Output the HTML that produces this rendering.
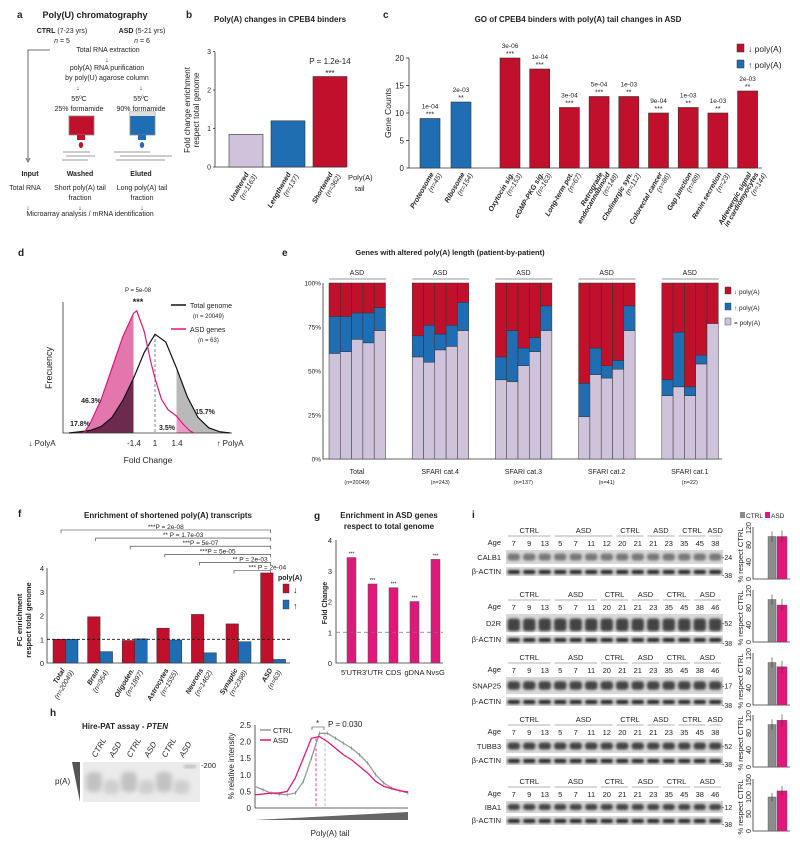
<!DOCTYPE html>
<html><head><meta charset="utf-8"><style>
html,body{margin:0;padding:0;background:#fff}
svg{display:block;font-family:"Liberation Sans",sans-serif}
text{fill:#222}
.b{font-weight:bold}
</style></head><body>
<svg id="fig" width="800" height="844" viewBox="0 0 800 844" xmlns="http://www.w3.org/2000/svg">
<defs><filter id="blur" x="-20%" y="-50%" width="140%" height="200%"><feGaussianBlur stdDeviation="1.2"/></filter>
<filter id="blur2" x="-30%" y="-50%" width="160%" height="200%"><feGaussianBlur stdDeviation="2.5"/></filter></defs>
<!-- Panel a -->
<g font-size="7">
<text x="17" y="18" class="b" font-size="10">a</text>
<text x="95" y="18" class="b" font-size="9" text-anchor="middle">Poly(U) chromatography</text>
<text x="62" y="33" text-anchor="middle"><tspan class="b">CTRL</tspan> (7-23 yrs)</text>
<text x="62" y="43" text-anchor="middle"><tspan font-style="italic">n</tspan> = 5</text>
<text x="142" y="33" text-anchor="middle"><tspan class="b">ASD</tspan> (5-21 yrs)</text>
<text x="142" y="43" text-anchor="middle"><tspan font-style="italic">n</tspan> = 6</text>
<path d="M50 50 H28 V160" stroke="#444" fill="none" stroke-width="0.8"/>
<path d="M26 158 L28 162 L30 158" stroke="#444" fill="none" stroke-width="0.8"/>
<text x="108" y="52" text-anchor="middle">Total RNA extraction</text>
<text x="107" y="62" text-anchor="middle">↓</text>
<text x="107" y="70" text-anchor="middle">poly(A) RNA purification</text>
<text x="107" y="80" text-anchor="middle">by poly(U) agarose column</text>
<text x="78" y="90" text-anchor="middle">↓</text><text x="141" y="90" text-anchor="middle">↓</text>
<text x="79" y="101" text-anchor="middle">55ºC</text><text x="141" y="101" text-anchor="middle">55ºC</text>
<text x="79" y="111" text-anchor="middle">25% formamide</text>
<text x="141" y="111" text-anchor="middle">90% formamide</text>
<g><rect x="69" y="116" width="25" height="19" fill="#c0102c" stroke="#888" stroke-width="0.8"/><rect x="77" y="135" width="8" height="5" fill="#c0102c"/><ellipse cx="81" cy="145" rx="2.2" ry="3" fill="#c0102c"/></g>
<g><rect x="130" y="112" width="25" height="23" fill="#1f6eb4" stroke="#888" stroke-width="0.8"/><rect x="130" y="112" width="25" height="4" fill="#ddd"/><rect x="138" y="135" width="8" height="5" fill="#1f6eb4"/><ellipse cx="142" cy="145" rx="2.2" ry="3" fill="#1f6eb4"/></g>
<g stroke="#777" stroke-width="0.7" fill="none">
<path d="M63 152 H90 M66 156 H95 M62 160 H88 M114 152 H150 M120 156 H172 M116 160 H165"/></g>
<text x="30" y="176" class="b" text-anchor="middle">Input</text>
<text x="80" y="176" class="b" text-anchor="middle">Washed</text>
<text x="141" y="176" class="b" text-anchor="middle">Eluted</text>
<text x="25" y="190" text-anchor="middle">Total RNA</text>
<text x="80" y="190" text-anchor="middle">Short poly(A) tail</text>
<text x="80" y="200" text-anchor="middle">fraction</text>
<text x="142" y="190" text-anchor="middle">Long poly(A) tail</text>
<text x="142" y="200" text-anchor="middle">fraction</text>
<text x="28" y="210" text-anchor="middle">↓</text><text x="80" y="210" text-anchor="middle">↓</text><text x="142" y="210" text-anchor="middle">↓</text>
<text x="90" y="216" text-anchor="middle">Microarray analysis / mRNA identification</text>
</g>
<g font-size="8">
<text x="186" y="18" class="b" font-size="10">b</text>
<text x="280" y="22" class="b" text-anchor="middle">Poly(A) changes in CPEB4 binders</text>
<text x="383" y="18" class="b" font-size="10">c</text>
<text x="578" y="22" class="b" text-anchor="middle">GO of CPEB4 binders with poly(A) tail changes in ASD</text>
<text x="18" y="256" class="b" font-size="10">d</text>
<text x="282" y="256" class="b" font-size="10">e</text>
<text x="450" y="255" class="b" text-anchor="middle" font-size="7.5">Genes with altered poly(A) length (patient-by-patient)</text>
<text x="18" y="517" class="b" font-size="10">f</text>
<text x="168" y="518" class="b" text-anchor="middle">Enrichment of shortened poly(A) transcripts</text>
<text x="314" y="519" class="b" font-size="10">g</text>
<text x="389" y="518" class="b" text-anchor="middle">Enrichment in ASD genes</text>
<text x="389" y="529" class="b" text-anchor="middle">respect to total genome</text>
<text x="472" y="518" class="b" font-size="10">i</text>
<text x="50" y="716" class="b" font-size="10">h</text>
<text x="125" y="729" class="b" text-anchor="middle">Hire-PAT assay - <tspan font-style="italic">PTEN</tspan></text>
</g>
<g id="charts"></g>
</svg>
<script>
const NS='http://www.w3.org/2000/svg';
const root=document.getElementById('charts');
function mk(tag,attrs,parent){const e=document.createElementNS(NS,tag);for(const k in attrs)e.setAttribute(k,attrs[k]);(parent||root).appendChild(e);return e;}
function tx(s,x,y,attrs,parent){const a=Object.assign({x:x,y:y,'font-size':7},attrs||{});const e=mk('text',a,parent);e.textContent=s;return e;}
const RED='#c0102c',BLUE='#1f6eb4',LAV='#cfc3dc',PINK='#e0187a',GREY='#999';

// ---------- Panel b data ----------
const bCats=['Unaltered','Lengthened','Shortened'];
const bN=['(n=1163)','(n=137)','(n=362)'];
const bVals=[0.85,1.2,2.35];
const bColors=[LAV,BLUE,RED];
const bTicks=[0,1,2,3];
// ---------- Panel c data ----------
const cCats=['Proteosome','Ribosome','Oxytocin sig.','cGMP-PKG sig.','Long-term pot.','Retrograde|endocannabinoid','Cholinergic syn.','Colorectal cancer','Gap junction','Renin secretion','Adrenergic signal|in cardiomyocytes'];
const cN=['(n=45)','(n=154)','(n=153)','(n=163)','(n=67)','(n=148)','(n=112)','(n=86)','(n=88)','(n=23)','(n=144)'];
const cVals=[9,12,20,18,11,13,13,10,11,10,14];
const cP=['1e-04','2e-03','3e-06','1e-04','3e-04','5e-04','1e-03','9e-04','1e-03','1e-03','2e-03'];
const cStars=['***','**','***','***','***','***','**','***','**','**','**'];
const cDir=['up','up','down','down','down','down','down','down','down','down','down'];
const cTicks=[0,5,10,15,20];
// ---------- Panel d data ----------
const dT=[-4,-3.5,-3,-2.5,-2,-1.5,-1,-0.5,0,0.5,1,1.5,2,2.5,3,3.5];
const dTotal=[0,0.01,0.02,0.05,0.12,0.25,0.42,0.62,0.76,0.7,0.5,0.28,0.12,0.04,0.01,0];
const dAsdT=[-3.3,-3,-2.5,-2,-1.5,-1,-0.85,-0.5,-0.2,0,0.3,0.6,1,1.3,1.6,1.8];
const dAsd=[0,0.08,0.26,0.5,0.74,0.92,0.94,0.78,0.55,0.42,0.26,0.18,0.13,0.07,0.02,0];
// ---------- Panel e data ----------
const eGroups=['Total','SFARI  cat.4','SFARI  cat.3','SFARI  cat.2','SFARI  cat.1'];
const eN=['(n=20049)','(n=243)','(n=137)','(n=41)','(n=22)'];
const eEqual=[[60,61,68,66,73],[58,55,62,64,73],[45,44,53,61,73],[24,48,46,51,73],[36,41,36,54,77]];
const eUp=[[21,20,15,17,13],[12,21,9,12,16],[13,29,10,8,14],[19,15,7,5,14],[9,31,5,5,0]];
const eTicks=['0%','25%','50%','75%','100%'];
// ---------- Panel f data ----------
const fCats=['Total','Brain','Oligoden.','Astrocytes','Neurons','Synaptic','ASD'];
const fN=['(n=20049)','(n=954)','(n=1897)','(n=1555)','(n=1462)','(n=2398)','(n=63)'];
const fDown=[1,1.95,0.95,1.47,2.05,1.65,3.8];
const fUp=[1,0.48,1.02,0.97,0.43,0.9,0.15];
const fSigFrom=[0,1,2,3,4,5];
const fSigText=['***P = 2e-08','** P = 1.7e-03','***P = 5e-07','***P = 5e-05','** P = 2e-03','*** P = 2e-04'];
const fTicks=[0,1,2,3,4];
// ---------- Panel g data ----------
const gCats=["5'UTR","3'UTR",'CDS','gDNA','NvsG'];
const gVals=[3.43,2.57,2.45,2.0,3.37];
const gTicks=[0,1,2,3,4];
// ---------- Panel h data ----------
const hCtrl=[0.65,0.55,0.45,0.42,0.4,0.45,0.8,1.5,2.25,2.25,2.1,1.95,1.8,1.6,1.35,1.0,0.75,0.6,0.52,0.45];
const hAsd=[0.4,0.42,0.45,0.45,0.5,0.9,1.5,2.1,2.15,2.0,1.8,1.6,1.45,1.25,1.05,0.8,0.65,0.58,0.52,0.48];
const hTicks=[0,0.5,1.0,1.5,2.0,2.5];
// ---------- Panel i data ----------
const iProteins=['CALB1','D2R','SNAP25','TUBB3','IBA1'];
const iMW=['24','52','17','52','12'];
const iCtrl=[100,100,100,100,100];
const iAsd=[100,87,90,110,118];
const iMax=[120,120,120,120,150];
const iAgesA=['7','9','13','5','7','11','12','20','21','21','23','35','45','38'];
const iAgesB=['7','9','13','5','7','11','20','21','21','23','35','45','38','46'];

// ===== Panel b =====
(function(){
 const g=mk('g',{});
 
 
 const y=v=>167-v*38.5;
 mk('path',{d:'M215 52 V167 H346',stroke:'#333',fill:'none','stroke-width':0.8},g);
 bTicks.forEach(t=>{const e=tx(String(t),211,y(t)+2.5,{'text-anchor':'end'},g);
  
  
  mk('line',{x1:213,x2:215,y1:y(t),y2:y(t),stroke:'#333','stroke-width':0.8},g);});
 const yt=tx('Fold change enrichment',0,0,{'font-size':8,transform:'translate(190,110) rotate(-90)','text-anchor':'middle'},g);
 
 
 tx('respect total genome',0,0,{'font-size':8,transform:'translate(199,110) rotate(-90)','text-anchor':'middle'},g);
 bVals.forEach((v,i)=>{const x=229+i*42;
  const r=mk('rect',{x:x,y:y(v),width:34,height:167-y(v),fill:bColors[i],stroke:'#333','stroke-width':0.6},g);
  
  
  const l=tx(bCats[i],0,0,{'font-weight':'bold','font-style':'italic','text-anchor':'end',transform:`translate(${x+20},174) rotate(-60)`},g);
  
  
  tx(bN[i],0,0,{'font-style':'italic','text-anchor':'end',transform:`translate(${x+28},176) rotate(-60)`},g);
 });
 const p=tx('P = 1.2e-14',330,64,{'font-size':8,'text-anchor':'middle'},g);
 
 
 tx('***',330,76,{'font-size':8,'text-anchor':'middle'},g);
 tx('Poly(A)',348,180,{'font-size':7.5},g);tx('tail',355,191,{'font-size':7.5},g);
})();

// ===== Panel c =====
(function(){
 const g=mk('g',{});
 
 
 const y=v=>168-v*5.5;
 const xb=i=>i<2?420+i*31:500+(i-2)*29.7;
 mk('path',{d:'M409 58 V168 H762',stroke:'#333',fill:'none','stroke-width':0.8},g);
 cTicks.forEach(t=>{const e=tx(String(t),404,y(t)+3,{'text-anchor':'end','font-size':8},g);
  
  
  mk('line',{x1:406,x2:409,y1:y(t),y2:y(t),stroke:'#333','stroke-width':0.8},g);});
 const yt=tx('Gene Counts',0,0,{'font-size':8.5,transform:'translate(391,113) rotate(-90)','text-anchor':'middle'},g);
 
 
 cVals.forEach((v,i)=>{const x=xb(i);
  const r=mk('rect',{x:x,y:y(v),width:20,height:168-y(v),fill:cDir[i]==='up'?BLUE:RED,stroke:'#333','stroke-width':0.6},g);
  
  
  const pv=tx(cP[i],x+10,y(v)-10,{'text-anchor':'middle','font-size':6.5},g);
  
  
  tx(cStars[i],x+10,y(v)-2,{'text-anchor':'middle','font-size':7},g);
  const parts=cCats[i].split('|');
  parts.forEach((s,k)=>{const l=tx(s,0,0,{'font-weight':'bold','font-style':'italic','text-anchor':'end',transform:`translate(${x+14+k*7},174) rotate(-60)`},g);
   
   });
  tx(cN[i],0,0,{'font-style':'italic','fill':'#666','text-anchor':'end',transform:`translate(${x+22+(parts.length-1)*7},175) rotate(-60)`},g);
 });
 const l1=mk('rect',{x:737,y:44,width:7,height:8,fill:RED,stroke:'#333','stroke-width':0.5},g);
 
 
 tx('↓ poly(A)',748,52,{'font-size':8.5},g);
 const l2=mk('rect',{x:737,y:60,width:7,height:8,fill:BLUE,stroke:'#333','stroke-width':0.5},g);
 
 
 tx('↑ poly(A)',748,68,{'font-size':8.5},g);
})();

// ===== Panel d =====
(function(){
 const g=mk('g',{});
 
 
 const x=t=>155+t*21.5, y=f=>433-f*130;
 function pts(T,F,lo,hi){const a=[];for(let i=0;i<T.length-1;i++){const t0=T[i],t1=T[i+1];if(t1<lo||t0>hi)continue;
   const a0=Math.max(t0,lo),a1=Math.min(t1,hi);
   const f0=F[i]+(F[i+1]-F[i])*(a0-t0)/(t1-t0),f1=F[i]+(F[i+1]-F[i])*(a1-t0)/(t1-t0);
   if(!a.length)a.push([x(a0),y(f0)]);a.push([x(a1),y(f1)]);}return a;}
 function area(T,F,lo,hi,fill,name){const p=pts(T,F,lo,hi);const d='M'+p[0][0]+' 433 L'+p.map(q=>q.join(' ')).join(' L')+' L'+p[p.length-1][0]+' 433Z';
  const e=mk('path',{d:d,fill:fill,stroke:'none'},g);
  
  }
 area(dAsdT,dAsd,-5,-1,'#e276ad','asd-shortened-area');
 area(dT,dTotal,-5,-1,'#6e2a4e','total-shortened-area');
 area(dT,dTotal,1,5,'#b9b9b9','total-lengthened-area');
 area(dAsdT,dAsd,1,5,'#e89cc3','asd-lengthened-area');
 mk('path',{d:'M63 302 V433 H232',stroke:'#333',fill:'none','stroke-width':0.8},g);
 mk('line',{x1:155,x2:155,y1:334,y2:433,stroke:'#666','stroke-dasharray':'3 2','stroke-width':0.8},g);
 const tl=mk('path',{d:'M'+dT.map((t,i)=>x(t)+' '+y(dTotal[i])).join(' L'),fill:'none',stroke:'#111','stroke-width':1.2},g);
 
 
 const al=mk('path',{d:'M'+dAsdT.map((t,i)=>x(t)+' '+y(dAsd[i])).join(' L'),fill:'none',stroke:PINK,'stroke-width':1.2},g);
 
 
 const yt=tx('Frecuency',0,0,{'font-size':9,transform:'translate(52,368) rotate(-90)','text-anchor':'middle'},g);
 
 
 tx('P = 5e-08',138,292,{'font-size':6,'text-anchor':'middle'},g);
 tx('***',138,305,{'font-size':9,'text-anchor':'middle','font-weight':'bold'},g);
 mk('line',{x1:171,x2:186,y1:305,y2:305,stroke:'#111','stroke-width':1.5},g);
 const lg=tx('Total genome',190,308,{'font-size':7},g);
 
 
 tx('(n = 20049)',193,318,{'font-size':6},g);
 mk('line',{x1:171,x2:186,y1:329,y2:329,stroke:PINK,'stroke-width':1.5},g);
 const lg2=tx('ASD genes',190,332,{'font-size':7},g);
 
 
 tx('(n = 63)',198,342,{'font-size':6},g);
 tx('46.3%',91,403,{'font-size':7,'font-weight':'bold',fill:PINK,'text-anchor':'middle'},g);
 tx('17.8%',80,426,{'font-size':7,'font-weight':'bold','text-anchor':'middle'},g);
 tx('3.5%',167,430,{'font-size':7,'font-weight':'bold',fill:PINK,'text-anchor':'middle'},g);
 tx('15.7%',205,414,{'font-size':7,'font-weight':'bold','text-anchor':'middle'},g);
 [['↓ PolyA',42],['-1.4',134],['1',155],['1.4',177],['↑ PolyA',230]].forEach(a=>{const e=tx(a[0],a[1],446,{'font-size':8,'text-anchor':'middle'},g);
  
  });
 const xt=tx('Fold Change',148,463,{'font-size':8.5,'text-anchor':'middle'},g);
 
 
})();

// ===== Panel e =====
(function(){
 const g=mk('g',{});
 
 
 const y=p=>459-p*1.76;
 mk('path',{d:'M323 283 V459 H722',stroke:'#333',fill:'none','stroke-width':0.8},g);
 eTicks.forEach((t,i)=>{const e=tx(t,321,y(i*25)+2.5,{'text-anchor':'end','font-size':6.5},g);
  
  });
 eEqual.forEach((grp,gi)=>{const gx=329+gi*83.2;
  grp.forEach((eq,k)=>{const x=gx+k*11.3,up=eUp[gi][k];
   const r1=mk('rect',{x:x,y:y(eq),width:11.3,height:eq*1.76,fill:LAV,stroke:'#333','stroke-width':0.5},g);
   
   
   const r2=mk('rect',{x:x,y:y(eq+up),width:11.3,height:up*1.76,fill:BLUE,stroke:'#333','stroke-width':0.5},g);
   
   
   const r3=mk('rect',{x:x,y:y(100),width:11.3,height:(100-eq-up)*1.76,fill:RED,stroke:'#333','stroke-width':0.5},g);
   
   
  });
  mk('line',{x1:gx,x2:gx+57,y1:279,y2:279,stroke:'#777','stroke-width':0.8},g);
  const a=tx('ASD',gx+28,275,{'font-size':7,'text-anchor':'middle'},g);
  
  
  const l=tx(eGroups[gi],gx+28,474,{'font-size':7,'text-anchor':'middle'},g);
  
  
  tx(eN[gi],gx+28,484,{'font-size':5.5,'text-anchor':'middle'},g);
 });
 [[RED,'↓ poly(A)',291],[BLUE,'↑ poly(A)',307],[LAV,'= poly(A)',322]].forEach(a=>{
  const r=mk('rect',{x:725,y:a[2]-4,width:6,height:7,fill:a[0],stroke:'#333','stroke-width':0.4},g);
  
  
  tx(a[1],734,a[2]+3,{'font-size':6.5},g);});
})();

// ===== Panel f =====
(function(){
 const g=mk('g',{});
 
 
 const y=v=>663-v*23.7;
 const xg=i=>53+i*34.6;
 mk('path',{d:'M47 568 V663 H290',stroke:'#333',fill:'none','stroke-width':0.8},g);
 fTicks.forEach(t=>{const e=tx(String(t),44,y(t)+3,{'text-anchor':'end','font-size':7.5},g);
  
  });
 const yt=tx('FC enrichment',0,0,{'font-size':7.5,'font-weight':'bold',transform:'translate(22,620) rotate(-90)','text-anchor':'middle'},g);
 
 
 tx('respect total genome',0,0,{'font-size':7.5,'font-weight':'bold',transform:'translate(31,620) rotate(-90)','text-anchor':'middle'},g);
 fDown.forEach((v,i)=>{const x=xg(i);
  const r=mk('rect',{x:x,y:y(v),width:12.5,height:v*23.7,fill:RED,stroke:'#333','stroke-width':0.5},g);
  
  
  const r2=mk('rect',{x:x+12.5,y:y(fUp[i]),width:12.5,height:fUp[i]*23.7,fill:BLUE,stroke:'#333','stroke-width':0.5},g);
  
  
  const l=tx(fCats[i],0,0,{'font-weight':'bold','font-style':'italic','text-anchor':'end','font-size':7,transform:`translate(${x+12},670) rotate(-60)`},g);
  
  
  tx(fN[i],0,0,{'font-style':'italic','fill':'#555','text-anchor':'end','font-size':7,transform:`translate(${x+21},672) rotate(-60)`},g);
 });
 mk('line',{x1:47,x2:290,y1:y(1),y2:y(1),stroke:'#111','stroke-dasharray':'3 2','stroke-width':0.8},g);
 fSigFrom.forEach((fi,k)=>{const ly=530+k*8.1,x1=xg(fi)+8,x2=xg(6)+10;
  const l=mk('path',{d:`M${x1} ${ly+3} V${ly} H${x2} V${ly+3}`,stroke:'#333',fill:'none','stroke-width':0.6},g);
  
  
  const t=tx(fSigText[k],(x1+x2)/2+ (k>3?15:0),ly-1,{'text-anchor':'middle','font-size':6.5},g);
  
  
 });
 tx('poly(A)',278,580,{'font-size':7,'font-weight':'bold'},g);
 const a=mk('rect',{x:283,y:584,width:6,height:9,fill:RED,stroke:'#333','stroke-width':0.4},g);
 
 
 tx('↓',293,593,{'font-size':9},g);
 const b=mk('rect',{x:283,y:600,width:6,height:9,fill:BLUE,stroke:'#333','stroke-width':0.4},g);
 
 
 tx('↑',293,609,{'font-size':9},g);
})();

// ===== Panel g =====
(function(){
 const g=mk('g',{});
 
 
 const y=v=>663-v*30.75;
 mk('path',{d:'M336 540 V663 H443',stroke:'#333',fill:'none','stroke-width':0.8},g);
 gTicks.forEach(t=>{const e=tx(String(t),332,y(t)+3,{'text-anchor':'end','font-size':7.5},g);
  
  });
 const yt=tx('Fold Change',0,0,{'font-size':7,'font-weight':'bold',transform:'translate(327,603) rotate(-90)','text-anchor':'middle'},g);
 
 
 gVals.forEach((v,i)=>{const x=347+i*21;
  const r=mk('rect',{x:x,y:y(v),width:9,height:v*30.75,fill:PINK,stroke:'#555','stroke-width':0.5},g);
  
  
  tx('***',x+4.5,y(v)-2,{'text-anchor':'middle','font-size':5},g);
  const l=tx(gCats[i],x+4.5,675,{'text-anchor':'middle','font-size':7.5},g);
  
  
 });
 mk('line',{x1:336,x2:443,y1:y(1),y2:y(1),stroke:'#777','stroke-dasharray':'4 3','stroke-width':0.8},g);
})();

// ===== Panel h =====
(function(){
 const g=mk('g',{});
 
 
 const gel=mk('rect',{x:83,y:762,width:117,height:40,fill:'#ebebeb'},g);
 
 
 const lanes=['CTRL','ASD','CTRL','ASD','CTRL','ASD'];
 lanes.forEach((s,i)=>{const cx=94+i*17.5;
  mk('rect',{x:cx-8,y:i%2?780:772,width:16,height:i%2?14:20,rx:5,fill:i%2?'#cfcfcf':'#c2c2c2',filter:'url(#blur2)'},g);
  const l=tx(s,0,0,{'font-style':'italic','font-size':8,transform:`translate(${cx+2},758) rotate(-60)`},g);
  
  });
 mk('rect',{x:184,y:765,width:12,height:3,fill:'#bbb',filter:'url(#blur)'},g);
 tx('-200',201,768,{'font-size':7.5},g);
 tx('p(A)',55,784,{'font-size':8},g);
 mk('path',{d:'M72 762 H80 V802 Z',fill:'#555'},g);
 const x=i=>255+i*(153/19), y=v=>808-v*33.2;
 mk('path',{d:'M255 725 V808 H408',stroke:'#333',fill:'none','stroke-width':0.8},g);
 hTicks.forEach(t=>{const e=tx(t===0?'0':t.toFixed(1),251,y(t)+3,{'text-anchor':'end','font-size':8},g);
  
  });
 const yt=tx('% relative intensity',0,0,{'font-size':8,transform:'translate(234,766) rotate(-90)','text-anchor':'middle'},g);
 
 
 mk('line',{x1:316,x2:316,y1:y(2.1),y2:808,stroke:PINK,'stroke-dasharray':'3 2','stroke-width':0.8},g);
 mk('line',{x1:325,x2:325,y1:y(2.25),y2:808,stroke:'#aaa','stroke-dasharray':'3 2','stroke-width':0.8},g);
 const c=mk('path',{d:'M'+hCtrl.map((v,i)=>x(i)+' '+y(v)).join(' L'),fill:'none',stroke:'#999','stroke-width':1.3},g);
 
 
 hCtrl.forEach((v,i)=>{mk('line',{x1:x(i),x2:x(i),y1:y(v)-2,y2:y(v)+2,stroke:'#777','stroke-width':0.5},g);});
 const a=mk('path',{d:'M'+hAsd.map((v,i)=>x(i)+' '+y(v)).join(' L'),fill:'none',stroke:PINK,'stroke-width':1.3},g);
 
 
 mk('line',{x1:260,x2:271,y1:730,y2:730,stroke:'#999','stroke-width':1.5},g);
 tx('CTRL',273,733,{'font-size':7.5},g);
 mk('line',{x1:260,x2:271,y1:740,y2:740,stroke:PINK,'stroke-width':1.5},g);
 tx('ASD',273,743,{'font-size':7.5},g);
 mk('path',{d:'M312 730 V727 H324 V730',stroke:'#333',fill:'none','stroke-width':0.6},g);
 tx('*',316,726,{'font-size':8},g);
 const p=tx('P = 0.030',328,727,{'font-size':8},g);
 
 
 mk('path',{d:'M255 820 L408 812 V820 Z',fill:'#666'},g);
 const xt=tx('Poly(A) tail',330,836,{'font-size':8,'text-anchor':'middle'},g);
 
 
})();

// ===== Panel i =====
(function(){
 const g=mk('g',{});
 
 
 const tops=[533,597,660,722,784];
 const blotH=[14,18,17,14,12];
 const chartY0=[579,642,705,767,831];
 const lw=15.5,x0=506;
 const hdrA=[['CTRL',0,3],['ASD',3,7],['CTRL',7,9],['ASD',9,11],['CTRL',11,13],['ASD',13,14]];
 const hdrB=[['CTRL',0,3],['ASD',3,6],['CTRL',6,8],['ASD',8,10],['CTRL',10,12],['ASD',12,14]];
 iProteins.forEach((p,b)=>{const t=tops[b];const alt=(b===0||b===3);
  const ages=alt?iAgesA:iAgesB, hdr=alt?hdrA:hdrB;
  hdr.forEach(h=>{const xa=x0+h[1]*lw+2,xb=x0+h[2]*lw-2;
   const e=tx(h[0],(xa+xb)/2,t,{'font-size':7.5,'text-anchor':'middle'},g);
   
   
   mk('line',{x1:xa,x2:xb,y1:t+3,y2:t+3,stroke:'#999','stroke-width':0.7},g);});
  tx('Age',501,t+12,{'font-size':7.5,'text-anchor':'end'},g);
  ages.forEach((a,k)=>{tx(a,x0+k*lw+lw/2,t+13,{'font-size':7.5,'text-anchor':'middle'},g);});
  const by=t+17,bh=blotH[b];
  const blot=mk('rect',{x:x0,y:by,width:14*lw,height:bh,fill:'#d8d8d8'},g);
  
  
  for(let k=0;k<14;k++){mk('rect',{x:x0+k*lw+1.5,y:by+bh*0.25,width:lw-3,height:bh*(b===1?0.7:0.5),rx:3,fill:'#2a2a2a',opacity:b===0?0.55:0.85,filter:'url(#blur)'},g);}
  const l=tx(p,501,by+bh/2+3,{'font-size':7.5,'text-anchor':'end'},g);
  
  
  tx('-'+iMW[b],722,by+bh/2+3,{'font-size':7},g);
  const ay=by+bh+3;
  const act=mk('rect',{x:x0,y:ay,width:14*lw,height:9,fill:'#dcdcdc'},g);
  
  
  for(let k=0;k<14;k++){mk('rect',{x:x0+k*lw+1.5,y:ay+3,width:lw-3,height:4,rx:2,fill:'#222',filter:'url(#blur)'},g);}
  tx('β-ACTIN',501,ay+7,{'font-size':7.5,'text-anchor':'end'},g);
  tx('-38',722,ay+11,{'font-size':7},g);
  const y0=chartY0[b],m=iMax[b],sc=51/m,y=v=>y0-v*sc;
  mk('path',{d:`M753 ${y0-52} V${y0} H790`,stroke:'#333',fill:'none','stroke-width':0.8},g);
  const ticks=m===150?[0,50,100,150]:[0,40,80,120];
  ticks.forEach(tk=>{const e=tx(String(tk),0,0,{'font-size':7,'text-anchor':'middle',transform:`translate(751,${y(tk)}) rotate(-90)`},g);
   
   });
  const yt=tx('% respect CTRL',0,0,{'font-size':7.5,transform:`translate(743,${y0-24}) rotate(-90)`,'text-anchor':'middle'},g);
  
  
  const r1=mk('rect',{x:768,y:y(iCtrl[b]),width:8,height:iCtrl[b]*sc,fill:'#8c8c8c',stroke:'#555','stroke-width':0.4},g);
  
  
  const r2=mk('rect',{x:777,y:y(iAsd[b]),width:10,height:iAsd[b]*sc,fill:PINK,stroke:'#555','stroke-width':0.4},g);
  
  
  mk('line',{x1:772,x2:772,y1:y(iCtrl[b]+12),y2:y(iCtrl[b]-12),stroke:'#333','stroke-width':0.6},g);
  mk('line',{x1:782,x2:782,y1:y(iAsd[b]+14),y2:y(iAsd[b]-14),stroke:'#333','stroke-width':0.6},g);
 });
 const lc=mk('rect',{x:740,y:512,width:5,height:6,fill:'#8c8c8c'},g);
 
 
 tx('CTRL',746,518,{'font-size':6.5},g);
 const la=mk('rect',{x:765,y:512,width:5,height:6,fill:PINK},g);
 
 
 tx('ASD',771,518,{'font-size':6.5},g);
})();
</script>
</body></html>
